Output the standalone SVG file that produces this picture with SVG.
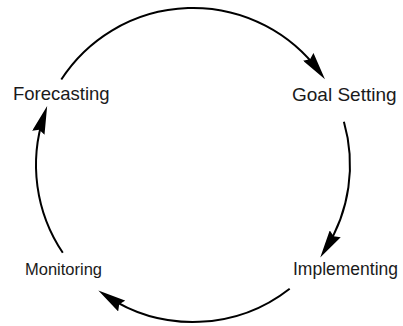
<svg xmlns="http://www.w3.org/2000/svg" width="403" height="326" viewBox="0 0 403 326">
<style>
.lbl{font-family:"Liberation Sans",Arial,sans-serif;fill:#1a1a1a;}
.arc{fill:none;stroke:#000;stroke-width:2;}
</style>
<defs>
<marker id="ah" markerUnits="userSpaceOnUse" markerWidth="28" markerHeight="13" viewBox="0 0 28 13" refX="18" refY="6.5" orient="auto">
<path d="M0,0 L28,6.5 L0,13 L3,6.5 Z" fill="#000"/>
</marker>
</defs>
<rect width="403" height="326" fill="#fff"/>
<g id="connectors">
<path class="arc" d="M61.3,79.5 A157,157 0 0 1 319.0,71.3" marker-end="url(#ah)"/>
<path class="arc" d="M343.9,121.7 A157,157 0 0 1 325.6,249.0" marker-end="url(#ah)"/>
<path class="arc" d="M289.7,288.7 A157,157 0 0 1 106.7,296.1" marker-end="url(#ah)"/>
<path class="arc" d="M62.8,252.8 A157,157 0 0 1 44.0,115.6" marker-end="url(#ah)"/>
</g>
<g id="forecasting"><text class="lbl" x="13" y="100" font-size="18.5">Forecasting</text></g>
<g id="goal-setting"><text class="lbl" x="292" y="101" font-size="19">Goal Setting</text></g>
<g id="implementing"><text class="lbl" x="293" y="275" font-size="17.5">Implementing</text></g>
<g id="monitoring"><text class="lbl" x="25" y="275" font-size="16.5">Monitoring</text></g>
</svg>
